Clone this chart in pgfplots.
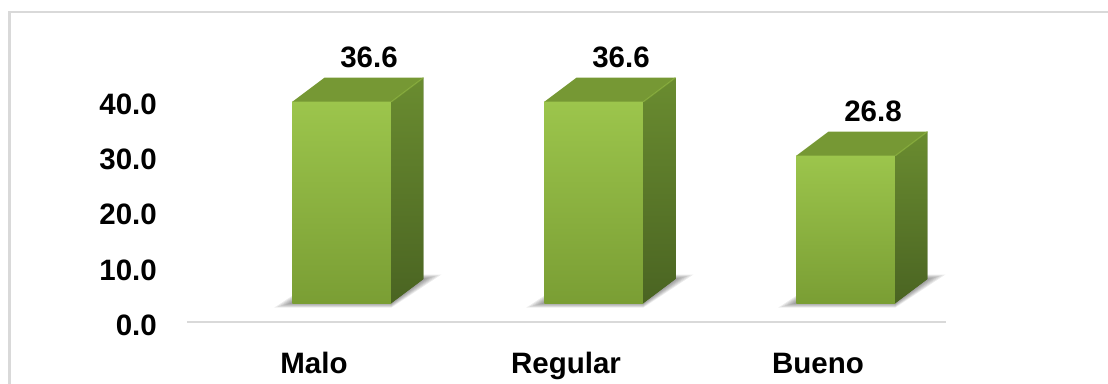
\documentclass[border=0pt]{standalone}
\usepackage{fontspec}
\setmainfont{Liberation Sans}
\usepackage{pgfplots}
\usepackage{pgfplotstable}
\pgfplotsset{compat=1.18}
\definecolor{frontTop}{RGB}{156,197,76}
\definecolor{frontBot}{RGB}{122,158,52}
\definecolor{sideTop}{RGB}{106,140,48}
\definecolor{sideBot}{RGB}{74,100,34}
\definecolor{topFace}{RGB}{118,152,52}
\definecolor{topEdge}{RGB}{140,178,62}
\definecolor{gridgray}{RGB}{217,217,217}
\pgfplotstableread{
x v
0 36.6
1 36.6
2 26.8
}\datatable
\pgfdeclareplotmark{bar3d}{%
  \path[draw=none] (0pt,0pt) ++(axis direction cs:0,-\barv) coordinate (b);
  \foreach \e in {3,6,9,12,15,18} {
    \fill[black, opacity=0.075, draw=none] ([shift={({-49.5pt-\e pt},{-\e pt/4})}]b) -- ([shift={({49.5pt},{-\e pt/4})}]b) -- ([shift={({81.5pt+\e pt},{24pt+\e pt/4})}]b) -- ([shift={(-17.5pt,{24pt+\e pt/4})}]b) -- cycle;
  }
  \fill[frontBot, draw=none] (-49.5pt,0pt) rectangle ([xshift=49.5pt]b);
  \shade[top color=frontTop, bottom color=frontBot, draw=none] (-49.5pt,0pt) rectangle ([xshift=49.5pt]b);
  \fill[sideBot, draw=none] (49.5pt,0pt) -- ([xshift=49.5pt]b) -- ([shift={(81.5pt,24pt)}]b) -- (81.5pt,24pt) -- cycle;
  \shade[top color=sideTop, bottom color=sideBot, draw=none] (49.5pt,0pt) -- ([xshift=49.5pt]b) -- ([shift={(81.5pt,24pt)}]b) -- (81.5pt,24pt) -- cycle;
  \fill[topFace, draw=none] (-49.5pt,0pt) -- (49.5pt,0pt) -- (81.5pt,24pt) -- (-17.5pt,24pt) -- cycle;
  \draw[topEdge, line width=1.2pt, opacity=0.7] (49.5pt,0pt) -- (81.5pt,24pt);
}
\begin{document}
\begin{tikzpicture}
\useasboundingbox (0pt,0pt) rectangle (1108pt,383pt);
\draw[color=gridgray, line width=2.5pt] (9.5pt,-30pt) rectangle (1140pt,371pt);
\begin{axis}[
  at={(187pt,61pt)}, anchor=south west,
  scale only axis, width=759pt, height=277.5pt,
  xmin=-0.615, xmax=2.397, ymin=-3.4545, ymax=47,
  clip=false,
  axis x line*=bottom, axis y line*=left,
  x axis line style={draw=gridgray, line width=2pt},
  y axis line style={draw=none},
  major tick length=0pt,
  xtick={0,1,2}, xticklabels={Malo,Regular,Bueno},
  ytick={0,10,20,30,40},
  yticklabel={\pgfmathprintnumber[fixed,fixed zerofill,precision=1]{\tick}},
  /pgf/number format/assume math mode=true,
  tick label style={font=\fontsize{29.5}{31}\selectfont\bfseries, inner sep=0pt},
  xticklabel style={anchor=base, xshift=-28pt, yshift=-51pt},
  yticklabel style={anchor=base east, xshift=-30pt, yshift=-32pt},
]
\addplot[only marks, mark=bar3d, point meta=explicit,
  visualization depends on={rawy \as \barv},
  nodes near coords={\pgfmathprintnumber[fixed,fixed zerofill,precision=1]{\pgfplotspointmeta}},
  nodes near coords style={font=\fontsize{29.5}{31}\selectfont\bfseries, anchor=base, xshift=27pt, yshift=34pt, inner sep=0pt, text=black},
] table[x=x, y=v, meta=v] {\datatable};
\end{axis}
\end{tikzpicture}
\end{document}
